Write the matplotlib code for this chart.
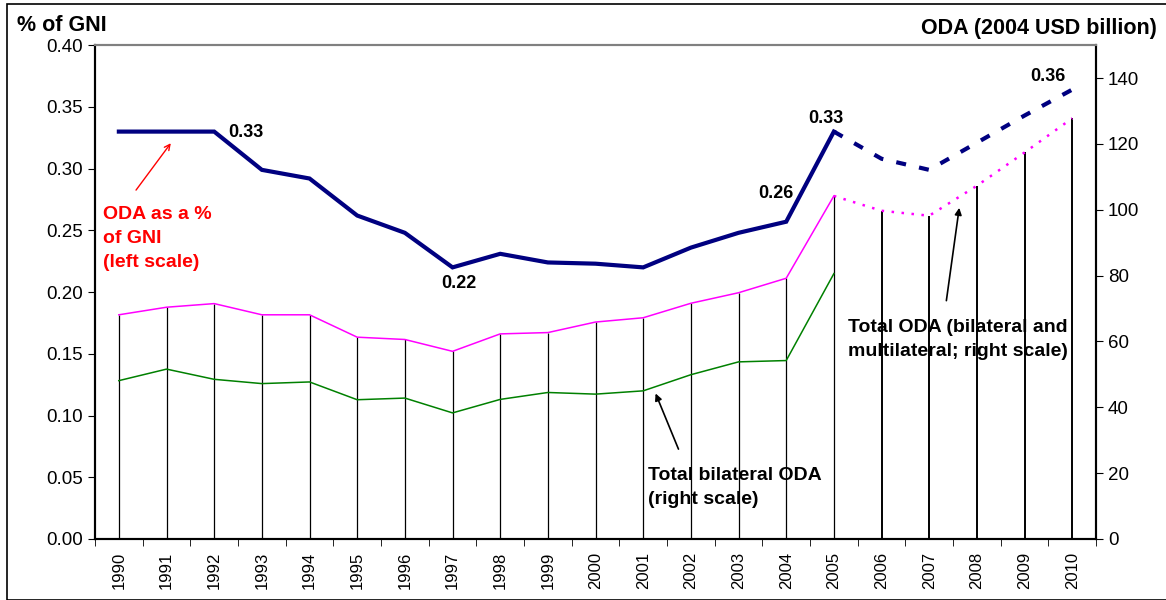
import matplotlib.pyplot as plt
import matplotlib.patches as patches
import numpy as np

plt.rcParams['font.family'] = ['Liberation Sans', 'DejaVu Sans']

years = list(range(1990, 2011))
# ODA as % of GNI (left scale)
oda_gni = [0.33, 0.33, 0.33, 0.299, 0.292, 0.262, 0.248, 0.220, 0.231, 0.224, 0.223,
           0.220, 0.236, 0.248, 0.257, 0.330, 0.308, 0.299, 0.321, 0.343, 0.364]
# Total ODA, bilateral and multilateral (right scale, 2004 USD bn)
total_oda = [68.1, 70.4, 71.5, 68.1, 68.1, 61.3, 60.6, 57.0, 62.3, 62.7, 65.9,
             67.2, 71.6, 74.8, 79.2, 104.2, 99.7, 98.2, 107.3, 117.4, 127.8]
# Total bilateral ODA (right scale), actuals to 2005
bilateral = [48.1, 51.6, 48.5, 47.2, 47.7, 42.3, 42.8, 38.3, 42.4, 44.5, 44.0,
             45.0, 49.9, 53.8, 54.2, 80.6]
last_actual = 2005

fig = plt.figure(figsize=(11.66, 6.0), dpi=100)
fig.patches.append(patches.Rectangle((0.006, 0.0), 1.0, 0.993, transform=fig.transFigure,
                                     fill=False, edgecolor='black', linewidth=1.2))
ax = fig.add_axes([0.0815, 0.1017, 0.8585, 0.823])
ax2 = ax.twinx()

k = years.index(last_actual)
yrs = np.array(years)

# drop lines under total ODA
ax2.vlines(yrs[:k + 1], 0, total_oda[:k + 1], color='black', lw=0.9)
ax2.vlines(yrs[k + 1:], 0, total_oda[k + 1:], color='black', lw=1.4)

ax2.plot(yrs[:k + 1], total_oda[:k + 1], color='#FF00FF', lw=1.1)
ax2.plot(yrs[k:], total_oda[k:], color='#FF00FF', lw=1.8, linestyle=(0, (1, 3)))
ax2.plot(yrs[:len(bilateral)], bilateral, color='#008000', lw=1.1)

ax.plot(yrs[:k + 1], oda_gni[:k + 1], color='#000080', lw=3.0, solid_joinstyle='miter')
ax.plot(yrs[k:], oda_gni[k:], color='#000080', lw=3.0, linestyle=(0, (2.4, 3.2)))
ax.set_zorder(ax2.get_zorder() + 1)
ax.patch.set_visible(False)

ax.set_xlim(1989.5, 2010.5)
ax.set_ylim(0, 0.40)
ax.set_yticks(np.arange(0, 0.401, 0.05))
ax.set_yticklabels(['%.2f' % v for v in np.arange(0, 0.401, 0.05)])
ax2.set_ylim(0, 150)
ax2.set_yticks(range(0, 141, 20))

ax.set_xticks(years)
ax.set_xticklabels([str(y) for y in years], rotation=90)
ax.set_xticks(np.arange(1989.5, 2011, 1), minor=True)
ax.tick_params(axis='x', which='major', length=0, pad=9, labelsize=12)
ax.tick_params(axis='x', which='minor', length=5, direction='out')
ax.tick_params(axis='y', length=5, direction='out', labelsize=13.5)
ax2.tick_params(axis='y', length=5, direction='out', labelsize=13.5)

for a in (ax, ax2):
    a.spines['top'].set_color('#808080')
    a.spines['top'].set_linewidth(1.5)
    a.spines['left'].set_linewidth(1.5)
    a.spines['right'].set_linewidth(1.5)
    a.spines['bottom'].set_linewidth(1.5)

# value labels
lab = dict(fontsize=13, fontweight='bold', va='center')
ax.text(1992.3, 0.329, '0.33', ha='left', **lab)
ax.text(1997.13, 0.207, '0.22', ha='center', **lab)
ax.text(2003.78, 0.280, '0.26', ha='center', **lab)
ax.text(2004.83, 0.341, '0.33', ha='center', **lab)
ax.text(2009.48, 0.375, '0.36', ha='center', **lab)

# annotations
txt = dict(fontsize=14, fontweight='bold', ha='left', va='top', linespacing=1.55)
ax.text(1989.67, 0.270, 'ODA as a %\nof GNI\n(left scale)', color='red', **txt)
ax.annotate('', xy=(1991.09, 0.3206), xytext=(1990.36, 0.2826),
            arrowprops=dict(arrowstyle='->', color='red', lw=1.0, shrinkA=0, shrinkB=0))

ax2.text(2001.11, 22.0, 'Total bilateral ODA\n(right scale)', **txt)
ax2.annotate('', xy=(2001.26, 44.2), xytext=(2001.74, 27.3),
             arrowprops=dict(arrowstyle='-|>', color='black', lw=1.2, shrinkA=0, shrinkB=0,
                             mutation_scale=10))

ax2.text(2005.3, 66.8, 'Total ODA (bilateral and\nmultilateral; right scale)', **txt)
ax2.annotate('', xy=(2007.63, 100.6), xytext=(2007.36, 72.4),
             arrowprops=dict(arrowstyle='-|>', color='black', lw=1.2, shrinkA=0, shrinkB=0,
                             mutation_scale=10))

fig.text(0.015, 0.958, '% of GNI', fontsize=15.5, fontweight='bold', ha='left', va='center')
fig.text(0.992, 0.953, 'ODA (2004 USD billion)', fontsize=15.5, fontweight='bold', ha='right', va='center')

fig.savefig('out.png', dpi=100)
